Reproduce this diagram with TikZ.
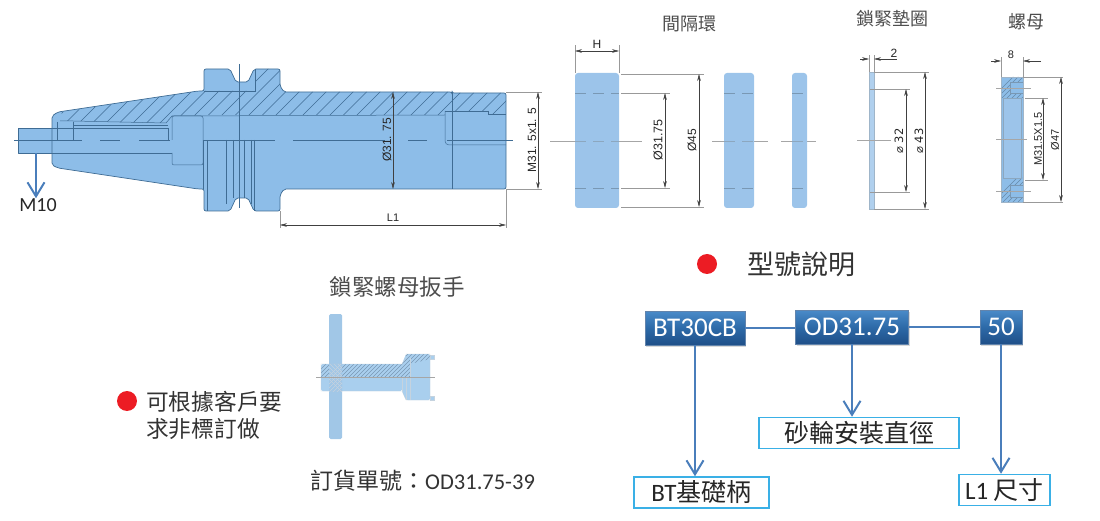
\documentclass[tikz,border=0pt]{standalone}
\usepackage{fontspec}
\setmainfont{Carlito}
\newfontfamily\cjk{Noto Sans CJK TC}
\newfontfamily\dimfont{Liberation Sans}
\newfontfamily\symfont{DejaVu Sans}
\usepackage{tikz}
\usetikzlibrary{positioning,arrows.meta,shadows}
\definecolor{shankblue}{HTML}{8DBDE8}
\definecolor{ringblue}{HTML}{9CC4EA}
\definecolor{keyblue}{HTML}{A9CFEE}
\definecolor{steelline}{HTML}{3F6C94}
\definecolor{flowblue}{HTML}{4A7EBB}
\definecolor{frameblue}{HTML}{3AB0E6}
\definecolor{dotred}{HTML}{EC1C24}
\definecolor{codetop}{HTML}{4A8BC9}
\definecolor{codemid}{HTML}{2D6AA8}
\definecolor{codebot}{HTML}{1F4F88}

\begin{document}
\begin{tikzpicture}[x=1pt,y=-1pt,
        bodyline/.style={draw=steelline,line width=0.7pt,line join=round},
        innerline/.style={draw=steelline,line width=0.5pt},
        hatchline/.style={draw=steelline,line width=0.5pt},
        hiddenline/.style={draw=steelline!70,line width=0.5pt,dash pattern=on 11pt off 7pt},
        axisline/.style={draw=black!35,line width=0.5pt},
        extline/.style={draw=black!40,line width=0.45pt},
        dimline/.style={draw=black!75,line width=0.5pt,{Stealth[length=7pt,width=3.6pt]}-{Stealth[length=7pt,width=3.6pt]}},
        dimtip/.style={draw=black!75,line width=0.5pt,-{Stealth[length=7pt,width=3.6pt]}},
        dimlabel/.style={font=\dimfont\fontsize{12}{14}\selectfont,text=black!85,inner sep=0pt},
        dimturn/.style={dimlabel,rotate=90},
        titlelabel/.style={font=\cjk\fontsize{18}{20}\selectfont,text=black!70,inner sep=0pt},
        notelabel/.style={font=\cjk\fontsize{22.7}{27}\selectfont,text=black!80,inner sep=0pt},
        reddot/.style={circle,fill=dotred,minimum size=20pt,inner sep=0pt},
        codebox/.style={rectangle,draw=codebot!70,top color=codetop,bottom color=codebot,middle color=codemid,
            text=white,font=\fontsize{27}{29}\selectfont,minimum height=34pt,inner sep=0pt,
            drop shadow={shadow xshift=1pt,shadow yshift=-1.5pt,opacity=.3}},
        infobox/.style={rectangle,draw=frameblue,line width=1.5pt,fill=white,text=black!85,
            font=\fontsize{25}{27}\selectfont,minimum height=31pt,inner sep=0pt},
        flowline/.style={draw=flowblue,line width=2pt},
        flowarrow/.style={flowline,-{Straight Barb[length=14pt,width=17pt,line width=2pt]}}
    ]
    \useasboundingbox (0,0) rectangle (1100,521);

    %--- holder ---
    \path[bodyline,fill=shankblue] (18,128) rectangle (52,153);
    \path[bodyline,fill=shankblue,rounded corners=2pt] (52,116) -- (58,112) -- (198,91) -- (204,91) -- (204,69)
        -- (230,69) -- (236,82) -- (248,82) -- (254,69) -- (280,69) -- (280,86) -- (284,92) -- (452,92) -- (452,93)
        -- (506,93) -- (506,189) -- (284,189) -- (280,195) -- (280,211) -- (254,211) -- (248,198) -- (236,198)
        -- (230,211) -- (204,211) -- (204,189) -- (198,189) -- (58,168) -- (52,165) -- cycle;
    \begin{scope}
        \clip (62,112) -- (198,91) -- (255,91) -- (255,69) -- (280,69) -- (280,86) -- (284,92) -- (452,92) -- (452,93)
            -- (506,93) -- (506,114) -- (488,114) -- (488,111) -- (445,111) -- (445,115) -- (203,115) -- (172,116)
            -- (166,123) -- (73,121) -- (60,121) -- cycle;
        \foreach \hx in {50,63.5,...,560}
            \draw[hatchline] (\hx,125) -- ++(65,-65);
    \end{scope}
    \draw[innerline] (60,121) -- (73,121) -- (166,123) -- (172,116) -- (445,115);
    \draw[innerline] (204,91) -- (255,91) -- (255,69);
    \draw[innerline] (57,122) -- (57,140) (73,122) -- (73,140);
    \draw[innerline] (73,125) -- (168,125) (52,128) -- (168,128) -- (168,140) (52,153) -- (172,153);
    \draw[innerline,rounded corners=2pt] (172,140) -- (172,116) -- (203,116) -- (203,165) -- (172,165) -- (172,153);
    \foreach \fx/\fy in {203/189,207/211,226/204,233/198,244/198,251/204,254/211}
        \draw[innerline] (\fx,140) -- (\fx,\fy);
    \draw[innerline] (203,140) -- (275,140);
    \draw[innerline] (239,64) -- (239,208);
    \draw[innerline] (452,93) -- (452,189);
    \draw[innerline] (488,111) -- (488,114) -- (506,114);
    \draw[innerline] (445,111) -- (488,111);
    \draw[innerline,rounded corners=4pt] (445,111) -- (445,145) -- (506,145);
    \draw[innerline] (14,140) -- (82,140) (100,140) -- (120,140) (139,140) -- (170,140)
        (293,140) -- (385,140) (408,140) -- (427,140) (447,140) -- (513,140);

    %--- holder dimensions ---
    \draw[extline] (506,92) -- (542,92) (506,189) -- (542,189) (280,211) -- (280,228) (506,189) -- (506,228);
    \draw[dimline] (393,92) -- (393,189);
    \draw[dimline] (538,92) -- (538,189);
    \draw[dimline] (280,225) -- (506,225);
    \node[dimturn] (holderbore) at (387,140) {Ø31. 75};
    \node[dimturn] (holderthread) at (532,140) {M31. 5x1. 5};
    \node[dimlabel,font=\dimfont\fontsize{11}{13}\selectfont] (holderlen) at (393,218) {L1};

    %--- M10 ---
    \node[inner sep=0pt,text=black!85,font=\fontsize{20}{22}\selectfont] (mten) at (38,205) {M10};
    \coordinate (stubfoot) at (36,153);
    \draw[flowarrow,line width=1.6pt] (stubfoot) -- (stubfoot |- mten.north);

    %--- spacer rings ---
    \node[titlelabel] (ringtitle) at (689,24) {間隔環};
    \foreach \rl/\rr/\al/\ar in {575/619/550/642,724/754/712/768,792/807/781/816}{
        \draw[axisline] (\al,141) -- (\ar,141);
        \path[fill=ringblue,rounded corners=3pt] (\rl,73) rectangle (\rr,208);
        \draw[hiddenline] (\rl,93) -- (\rr,93) (\rl,188) -- (\rr,188);
        \draw[axisline,draw=steelline!60,dash pattern=on 11pt off 7pt] (\rl,141) -- (\rr,141);
    }
    \draw[extline] (575,73) -- (575,45) (619,73) -- (619,45);
    \draw[extline] (621,74) -- (704,74) (621,207) -- (704,207) (621,93) -- (670,93) (621,188) -- (670,188);
    \draw[dimline] (575,51) -- (619,51);
    \draw[dimline] (699,74) -- (699,207);
    \draw[dimline] (665,93) -- (665,188);
    \node[dimlabel] (ringwidth) at (597,44) {H};
    \node[dimturn] (ringouter) at (692,140) {Ø45};
    \node[dimturn,font=\dimfont\fontsize{12.5}{14}\selectfont] (ringinner) at (658,140) {Ø31.75};

    %--- washer ---
    \node[titlelabel] (washertitle) at (892,19) {鎖緊墊圈};
    \path[fill=ringblue!80!white,draw=steelline!50,line width=0.3pt] (869,72) rectangle (874,209);
    \draw[axisline] (857,140) -- (891,140);
    \draw[extline] (874,72) -- (929,72) (874,209) -- (929,209) (870,89) -- (910,89) (870,192) -- (910,192);
    \draw[extline] (869,72) -- (869,55) (874,72) -- (874,55);
    \draw[dimline] (925,72) -- (925,209);
    \draw[dimline] (906,89) -- (906,192);
    \draw[dimtip] (860,59) -- (869,59);
    \draw[dimtip] (897,59) -- (874,59);
    \node[dimlabel] (washerthick) at (894,53) {2};
    \node[dimturn,font=\symfont\fontsize{11.5}{13}\selectfont] (washerouter) at (919,141) {⌀ 43};
    \node[dimturn,font=\symfont\fontsize{11.5}{13}\selectfont] (washerinner) at (899,141) {⌀ 32};

    %--- nut ---
    \node[titlelabel] (nuttitle) at (1026,22) {螺母};
    \path[fill=shankblue] (1001,77) rectangle (1023,202);
    \begin{scope}
        \clip (1001,77) rectangle (1023,98) (1001,178) rectangle (1023,202);
        \foreach \hx in {990,995,...,1030}
            \draw[hatchline,draw=steelline!80,line width=0.4pt] (\hx,205) -- ++(30,-30) (\hx,100) -- ++(30,-30);
    \end{scope}
    \path[fill=ringblue,draw=steelline!60,line width=0.3pt] (1003,98) rectangle (1021,178);
    \path[fill=shankblue,draw=steelline!70,line width=0.3pt] (1010,82) rectangle (1023,93);
    \path[fill=shankblue,draw=steelline!70,line width=0.3pt] (1010,185) rectangle (1023,197);
    \draw[draw=steelline!50,line width=0.3pt] (1001,77) rectangle (1023,202);
    \draw[axisline] (996,88) -- (1031,88) (996,191) -- (1031,191) (996,139) -- (1027,139);
    \draw[extline] (1023,77) -- (1063,77) (1023,202) -- (1063,202) (1025,98) -- (1048,98) (1025,180) -- (1048,180);
    \draw[extline] (1001,77) -- (1001,57) (1023,77) -- (1023,57);
    \draw[dimline] (1061,77) -- (1061,202);
    \draw[dimline] (1043,98) -- (1043,180);
    \draw[dimtip] (991,61) -- (1001,61);
    \draw[dimtip] (1041,61) -- (1023,61);
    \node[dimlabel,font=\dimfont\fontsize{11}{13}\selectfont] (nutthick) at (1011,55) {8};
    \node[dimturn,font=\dimfont\fontsize{11}{13}\selectfont] (nutthread) at (1038,139) {M31.5X1.5};
    \node[dimturn,font=\dimfont\fontsize{11}{13}\selectfont] (nutouter) at (1055,140) {Ø47};

    %--- wrench ---
    \node[titlelabel,font=\cjk\fontsize{22.5}{24}\selectfont] (keytitle) at (397,287) {鎖緊螺母扳手};
    \path[fill=keyblue,rounded corners=1.5pt] (321,364) rectangle (402,391);
    \path[fill=keyblue,rounded corners=1.5pt] (406,354) -- (430,354) -- (430,400) -- (406,400) -- (402,391) -- (402,364) -- cycle;
    \path[fill=keyblue,draw=steelline!30,line width=0.3pt] (430,355) rectangle (434,359) (430,396) rectangle (434,400);
    \begin{scope}
        \clip (321,364) -- (402,364) -- (406,358) -- (406,354) -- (430,354) -- (430,359) -- (410,364) -- (410,377) -- (321,377) -- cycle;
        \foreach \hx in {310,314,...,430}
            \draw[hatchline,draw=steelline!70,line width=0.4pt] (\hx,380) -- ++(30,-30);
    \end{scope}
    \path[fill=keyblue!92!steelline,rounded corners=1.5pt] (329,314) rectangle (342,439);
    \begin{scope}
        \clip (329,364) rectangle (342,391);
        \foreach \hx in {310,314,...,360}
            \draw[draw=white!70!steelline,line width=0.4pt] (\hx,395) -- ++(35,-35) (\hx,360) -- ++(35,35);
    \end{scope}
    \draw[draw=steelline!35,line width=0.3pt] (321,364) -- (402,364) -- (406,358) -- (406,354) -- (430,354) -- (430,400) -- (406,400) -- (402,391) -- (321,391) -- cycle;
    \draw[draw=steelline!30,line width=0.3pt] (406,377) -- (406,400) (402,377) -- (402,391) (410,358) -- (410,400);
    \draw[axisline] (316,377) -- (435,377);

    %--- notes ---
    \node[reddot] (notedot) at (127,401) {};
    \node[notelabel,anchor=west,align=left] (notetext) at (146,415) {可根據客戶要\\求非標訂做};
    \node[notelabel,font=\fontsize{22.5}{24}\selectfont,anchor=west] (ordertext) at (310,481) {{\cjk\fontsize{23}{24}\selectfont 訂貨單號：}OD31.75-39};

    %--- model code ---
    \node[reddot] (modeldot) at (707,264) {};
    \node[notelabel,font=\cjk\fontsize{27}{29}\selectfont,anchor=west] (modeltitle) at (747,264) {型號說明};
    \node[codebox,minimum width=100pt] (basecode) at (695,328) {BT30CB};
    \node[codebox,minimum width=113pt] (borecode) at (852,327) {OD31.75\hspace{12pt}};
    \node[codebox,minimum width=42pt] (lengthcode) at (1001,327) {50};
    \node[infobox,minimum width=135pt] (baseinfo) at (701.5,492.5) {BT{\cjk 基礎柄}};
    \node[infobox,minimum width=200pt] (boreinfo) at (859,433) {\cjk 砂輪安裝直徑};
    \node[infobox,minimum width=91pt] (lengthinfo) at (1004.5,490) {L1 {\cjk 尺寸}};

    %--- connectors ---
    \draw[flowline] (basecode.east) -- (basecode.east -| borecode.west);
    \draw[flowline] (borecode.east) -- (lengthcode.west);
    \draw[flowarrow] (basecode.south) -- (basecode.south |- baseinfo.north);
    \draw[flowarrow] (borecode.south) -- (borecode.south |- boreinfo.north);
    \draw[flowarrow] (lengthcode.south) -- (lengthcode.south |- lengthinfo.north);
\end{tikzpicture}
\end{document}
